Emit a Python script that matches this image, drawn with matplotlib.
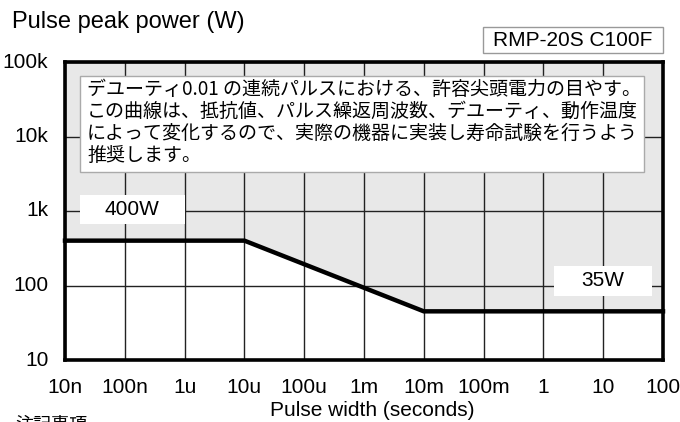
import matplotlib
matplotlib.use("Agg")
import matplotlib.pyplot as plt
from matplotlib.patches import Rectangle

# ---- data ----
pulse_width = [1e-8, 1e-5, 1e-2, 100]
peak_power = [400, 400, 45, 45]
x_ticks = [1e-8, 1e-7, 1e-6, 1e-5, 1e-4, 1e-3, 1e-2, 1e-1, 1, 10, 100]
x_tick_labels = ["10n", "100n", "1u", "10u", "100u", "1m", "10m", "100m", "1", "10", "100"]
y_ticks = [10, 100, 1000, 10000, 100000]
y_tick_labels = ["10", "100", "1k", "10k", "100k"]

W, H = 680, 422
fig = plt.figure(figsize=(W / 100, H / 100), dpi=100)
LAT = ["Liberation Sans", "DejaVu Sans"]
JP = ["Noto Sans CJK JP", "DejaVu Sans"]

def fx(px):
    return px / W

def fy(py):
    return 1 - py / H

L, R, T, B = 65, 663, 62, 360
ax = fig.add_axes([fx(L), fy(B), fx(R) - fx(L), fy(T) - fy(B)])
ax.set_xscale("log")
ax.set_yscale("log")
ax.set_xlim(1e-8, 100)
ax.set_ylim(10, 100000)

ax.fill_between(pulse_width, peak_power, 100000, color="#e8e8e8", zorder=0, linewidth=0)
ax.set_xticks(x_ticks)
ax.set_yticks(y_ticks)
ax.minorticks_off()
ax.set_xticklabels(x_tick_labels, family=LAT, fontsize=15)
ax.set_yticklabels(y_tick_labels, family=LAT, fontsize=15)
ax.tick_params(length=0, pad=12)
ax.tick_params(axis="x", pad=13)
for lbl in ax.get_yticklabels():
    lbl.set_verticalalignment("center")
ax.grid(True, color="#222222", linewidth=1.0, zorder=1)
ax.set_axisbelow(True)
for s in ax.spines.values():
    s.set_linewidth(2.6)
    s.set_color("black")
    s.set_zorder(5)

ax.plot(pulse_width, peak_power, color="black", linewidth=3.2, zorder=4,
        solid_joinstyle="miter", clip_on=False)

# title & labels
fig.text(fx(12), fy(22), "Pulse peak power (W)", family=LAT, fontsize=17, va="center", ha="left")
fig.text(fx(372), fy(410), "Pulse width (seconds)", family=LAT, fontsize=15, va="center", ha="center")
fig.text(fx(15), fy(416), "注記事項", family=JP, fontsize=13, va="top", ha="left")

# model box
fig.patches.append(Rectangle((fx(483), fy(53)), fx(663) - fx(483), fy(27) - fy(53),
                             transform=fig.transFigure, facecolor="white",
                             edgecolor="#999999", linewidth=1.0, zorder=3))
fig.text(fx(573), fy(40), "RMP-20S C100F", family=LAT, fontsize=15, va="center", ha="center", zorder=4)

# note box
fig.patches.append(Rectangle((fx(80), fy(172)), fx(644) - fx(80), fy(76) - fy(172),
                             transform=fig.transFigure, facecolor="white",
                             edgecolor="#aaaaaa", linewidth=1.0, zorder=6))
note = ("デユーティ0.01 の連続パルスにおける、許容尖頭電力の目やす。\n"
        "この曲線は、抵抗値、パルス繰返周波数、デユーティ、動作温度\n"
        "によって変化するので、実際の機器に実装し寿命試験を行うよう\n"
        "推奨します。")
fig.text(fx(87), fy(79), note, family=JP, fontsize=13.7, va="top", ha="left",
         linespacing=1.07, zorder=7)

# value labels
fig.patches.append(Rectangle((fx(80), fy(224)), fx(185) - fx(80), fy(195) - fy(224),
                             transform=fig.transFigure, facecolor="white",
                             edgecolor="none", zorder=6))
fig.text(fx(132), fy(210), "400W", family=LAT, fontsize=15, va="center", ha="center", zorder=7)
fig.patches.append(Rectangle((fx(554), fy(296)), fx(652) - fx(554), fy(266) - fy(296),
                             transform=fig.transFigure, facecolor="white",
                             edgecolor="none", zorder=6))
fig.text(fx(603), fy(281), "35W", family=LAT, fontsize=15, va="center", ha="center", zorder=7)

fig.savefig("out.png", dpi=100)
